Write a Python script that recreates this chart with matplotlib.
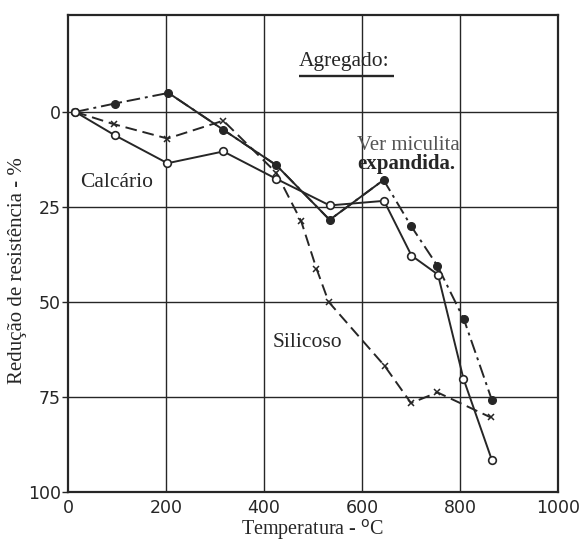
import matplotlib.pyplot as plt

# Dados (temperatura em oC, redução de resistência em %)
temp_verm = [15, 95, 205, 317, 425, 534, 644, 700, 754, 808, 865]
red_verm = [0, -2.2, -5, 4.7, 14, 28.4, 17.9, 30, 40.5, 54.6, 75.8]

temp_calc = [15, 95, 203, 317, 425, 534, 645, 701, 755, 807, 865]
red_calc = [0, 6.1, 13.5, 10.4, 17.6, 24.6, 23.4, 37.8, 42.8, 70.2, 91.6]

temp_sil = [15, 93, 203, 317, 425, 476, 507, 532, 646, 700, 754, 863]
red_sil = [0, 3.2, 7, 2.3, 16, 28.8, 41.2, 50, 66.8, 76.6, 73.8, 80.4]

xticks = [0, 200, 400, 600, 800, 1000]
yticks = [0, 25, 50, 75, 100]

serif = 'Liberation Serif'
cor = '#262626'

fig = plt.figure(figsize=(5.82, 5.42), dpi=100)
ax = fig.add_axes([0.1168, 0.0923, 0.842, 0.88])

ax.set_xlim(0, 1000)
ax.set_ylim(100, -25.5)
ax.set_xticks(xticks)
ax.set_yticks(yticks)
for x in [200, 400, 600, 800]:
    ax.axvline(x, color=cor, lw=1.0, zorder=1)
for y in [0, 25, 50, 75]:
    ax.axhline(y, color=cor, lw=1.0, zorder=1)

for s in ax.spines.values():
    s.set_linewidth(1.6)
    s.set_color(cor)
ax.tick_params(axis='both', which='major', labelsize=12.5, colors=cor,
               length=4, width=1, direction='out')
ax.tick_params(axis='x', length=0, pad=5)
ax.tick_params(axis='y', pad=1)

# Vermiculita expandida: traço-ponto, trecho central contínuo
ax.plot(temp_verm, red_verm, color=cor, lw=1.4, ls=(0, (7, 2.5, 1.5, 2.5)),
        marker='o', ms=5.5, mfc=cor, mec=cor, zorder=3)
ax.plot(temp_verm[2:7], red_verm[2:7], color=cor, lw=1.4, ls='-', zorder=3)

# Calcário: contínuo, círculos abertos
ax.plot(temp_calc, red_calc, color=cor, lw=1.4, ls='-',
        marker='o', ms=5.5, mfc='white', mec=cor, mew=1.2, zorder=4)

# Silicoso: tracejado com x
ax.plot(temp_sil, red_sil, color=cor, lw=1.4, ls=(0, (6, 3)),
        marker='x', ms=5, mec=cor, mew=1.1, zorder=3)

ax.text(472, -13.2, 'Agregado:', fontfamily=serif, fontsize=15.5, color=cor,
        ha='left', va='center', zorder=5)
ax.plot([472, 665], [-9.4, -9.4], color=cor, lw=1.7, solid_capstyle='butt',
        zorder=5)
ax.text(590, 8.9, 'Ver miculita', fontfamily=serif, fontsize=15,
        color='#555555', ha='left', va='center')
ax.text(590, 13.6, 'expandida.', fontfamily=serif, fontsize=15,
        fontweight='bold', color=cor, ha='left', va='center')
ax.text(25, 18.7, 'Calcário', fontfamily=serif, fontsize=15.5, color=cor,
        ha='left', va='center')
ax.text(417, 60.8, 'Silicoso', fontfamily=serif, fontsize=15.5, color=cor,
        ha='left', va='center')

ax.set_xlabel('Temperatura - $^{\\mathrm{o}}$C', fontfamily=serif,
              fontsize=14.5, color=cor, labelpad=0)
ax.set_ylabel('Redução de resistência - %', fontfamily=serif,
              fontsize=15, color=cor)
ax.yaxis.set_label_coords(-0.084, 0.465)

fig.savefig('out.png', dpi=100)
